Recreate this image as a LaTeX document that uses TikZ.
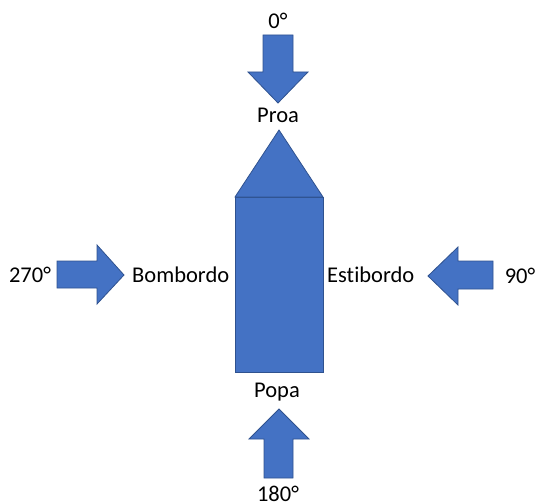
\documentclass[tikz,border=0pt]{standalone}
\usepackage{fontspec}
\setmainfont[Ligatures={NoCommon}]{Carlito}
\definecolor{shapefill}{HTML}{4472C4}
\definecolor{shapeline}{HTML}{2F528F}
\tikzset{
  blueshape/.style={fill=shapefill, draw=shapeline, line width=0.8pt, line join=miter},
  lbl/.style={font=\fontsize{22.5}{26}\selectfont, text=black, inner sep=0pt}
}
\begin{document}
\begin{tikzpicture}[x=1pt, y=-1pt]
  \useasboundingbox (0,0) rectangle (536,503);
  % hull and bow
  \draw[blueshape] (235,197) rectangle (323,372);
  \draw[blueshape] (235,197) -- (279,130) -- (323,197) -- cycle;
  % arrow from the bow (0°)
  \draw[blueshape] (263,35) -- (293,35) -- (293,72) -- (308,72) -- (278,103)
    -- (248,72) -- (263,72) -- cycle;
  % arrow from the stern (180°)
  \draw[blueshape] (264,478) -- (293,478) -- (293,439) -- (309,439) -- (279,409)
    -- (249,439) -- (264,439) -- cycle;
  % arrow from port (270°)
  \draw[blueshape] (57,261) -- (97,261) -- (97,245) -- (124,275) -- (97,304)
    -- (97,288) -- (57,288) -- cycle;
  % arrow from starboard (90°)
  \draw[blueshape] (493,261) -- (458,261) -- (458,247) -- (428,276) -- (458,305)
    -- (458,289) -- (493,289) -- cycle;
  % labels
  \node[lbl] (deg0) at (278,21) {0°};
  \node[lbl] (proa) at (278,115) {Proa};
  \node[lbl] (popa) at (277,392) {Popa};
  \node[lbl] (deg180) at (278,494) {180°};
  \node[lbl] (deg270) at (30,275) {270°};
  \node[lbl, anchor=west] (bombordo) at (132,275) {Bombordo};
  \node[lbl, anchor=west] (estibordo) at (327,275) {Estibordo};
  \node[lbl] (deg90) at (520,276) {90°};
\end{tikzpicture}
\end{document}
